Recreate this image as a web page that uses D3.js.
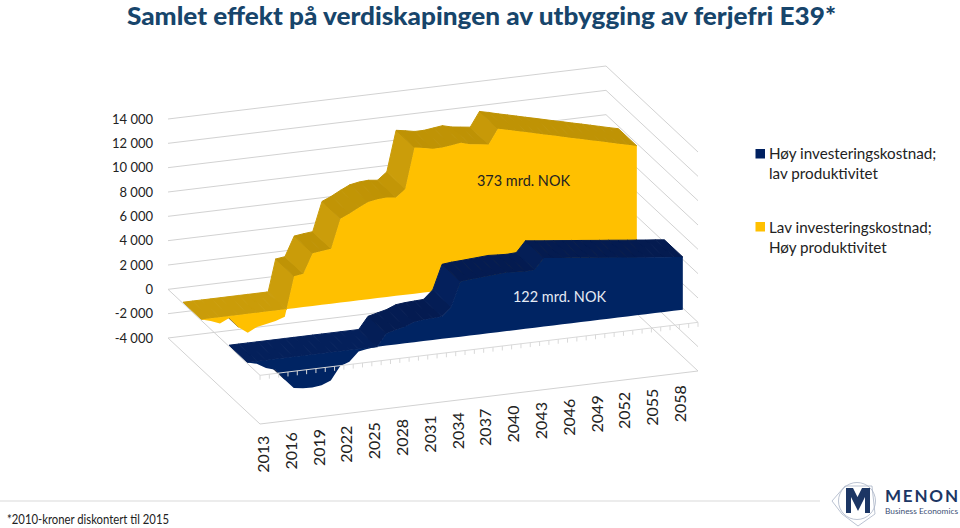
<!DOCTYPE html>
<html><head><meta charset="utf-8">
<style>html,body{margin:0;padding:0;background:#fff}svg{display:block}text{font-family:Lato,"Open Sans",sans-serif}</style>
<script src="https://cdn.jsdelivr.net/npm/d3@7/dist/d3.min.js"></script>
</head><body><svg id="c" width="960" height="528"></svg>
<script>
const years = d3.range(2013, 2061);
const labelYears = [2013,2016,2019,2022,2025,2028,2031,2034,2037,2040,2043,2046,2049,2052,2055,2058];
const gridValues = [-4000,-2000,0,2000,4000,6000,8000,10000,12000,14000];
const yellowValues = [-130,-350,-650,-300,-1150,-1680,-1300,-1150,-1000,-750,2500,2600,4200,4300,4380,6770,7100,7500,7860,8000,8050,7960,8560,11880,11750,11600,11600,11700,11800,11600,11500,11400,12600,12420,12220,12040,11850,11660,11480,11290,11100,10920,10730,10550,10360,10170,9980,9800];
const navyValues = [-130,-340,-780,-1000,-1900,-2700,-2800,-2830,-2750,-2450,-1370,-1080,-330,-200,-130,860,1050,1230,1540,1620,1660,1700,2400,4400,4480,4520,4570,4620,4670,4620,4580,4620,5500,5410,5320,5240,5150,5060,4980,4890,4800,4720,4630,4540,4460,4370,4290,4200];
const baseV = -130;
const series = [
  {values:yellowValues, z0:.665, z1:.865, face:"#FFC000", flat:"#BE9204", steep:"#CB9D0A", under:"#6f5200"},
  {values:navyValues, z0:.165, z1:.365, face:"#002463", flat:"#041B50", steep:"#04205C", under:"#020c26"}
];
const svg = d3.select("#c");
const tS = d3.scaleLinear().domain([2013,2060]).range([.006,1]);
const hS = d3.scaleLinear().domain([-4000,14000]).range([0,219]);
const slopeS = d3.scaleLinear().domain([0,2.5]).range([0,1]).clamp(true);
function P(t,z,v){ return [260+438*t-92*z, 424-53*t-86*z-hS(v)]; }
const line = d3.line();
const poly = p => line(p)+"Z";

// walls
const gridC = "#d2d2d2";
const wall = svg.append("g").attr("fill","none").attr("stroke",gridC).attr("stroke-width",1);
gridValues.forEach(v=>{
  wall.append("path").attr("d",line([P(0,1,v),P(1,1,v),P(1,0,v)]));
});
wall.append("path").attr("d",line([P(0,1,-4000),P(0,0,-4000),P(1,0,-4000)]));
wall.append("path").attr("d",line([P(0,1,0),P(0,0,0)]));
gridValues.forEach(v=>{
  svg.append("text").attr("x",153).attr("y",P(0,1,v)[1]+4.5).attr("text-anchor","end")
    .attr("font-size",13).attr("fill","#222").text(d3.format(",")(v).replace(/,/g," ").replace("\u2212","-"));
});

// series
series.forEach(s=>{
  const g = svg.append("g");
  const segs=[];
  for(let i=0;i<years.length-1;i++){
    const a=years[i],b=years[i+1],va=s.values[i],vb=s.values[i+1];
    if((va-baseV)*(vb-baseV)<0){
      const c=a+(baseV-va)/(vb-va)*(b-a);
      segs.push([a,va,c,baseV],[c,baseV,b,vb]);
    } else segs.push([a,va,b,vb]);
  }
  const quad=(a,va,b,vb)=>[P(tS(a),s.z0,va),P(tS(b),s.z0,vb),P(tS(b),s.z1,vb),P(tS(a),s.z1,va)];
  // underside, only where a falling stretch turns it to the viewer
  segs.forEach(([a,va,b,vb])=>{
    if(va<=baseV&&vb<=baseV){
      const q=quad(a,va,b,vb);
      const ex=q[1][0]-q[0][0],ey=q[1][1]-q[0][1],zx=q[3][0]-q[0][0],zy=q[3][1]-q[0][1];
      if(ex*zy-ey*zx>0) g.append("path").attr("d",poly(q)).attr("fill",s.under).attr("stroke",s.under).attr("stroke-width",.4);
    }
  });
  // upper surface
  segs.forEach(([a,va,b,vb])=>{
    const ua=Math.max(va,baseV),ub=Math.max(vb,baseV);
    const q=quad(a,ua,b,ub);
    const sl=Math.abs((q[1][1]-q[0][1])/(q[1][0]-q[0][0]));
    const col=d3.interpolateRgb(s.flat,s.steep)(ua===baseV&&ub===baseV?.9:slopeS(sl));
    g.append("path").attr("d",poly(q)).attr("fill",col).attr("stroke",col).attr("stroke-width",1).attr("stroke-linejoin","round");
  });
  // front face
  const area=d3.area()
    .x((d,i)=>P(tS(years[i]),s.z0,d)[0])
    .y0((d,i)=>P(tS(years[i]),s.z0,baseV)[1])
    .y1((d,i)=>P(tS(years[i]),s.z0,d)[1]);
  g.append("path").attr("d",area(s.values)).attr("fill",s.face);
});

// category axis at zero
const axis = svg.append("g").attr("stroke","#d9d9d9").attr("fill","none");
axis.append("path").attr("d",line([P(0,0,0),P(1,0,0)]));
years.forEach(y=>{
  const p=P(tS(y)-.006*(1-tS(y)),0,0);
  axis.append("path").attr("d",line([p,[p[0],p[1]+4.5]]));
});
labelYears.forEach(y=>{
  const p=P(tS(y),0,-4000);
  svg.append("text").attr("transform",`translate(${p[0]+6.5},${p[1]+12}) rotate(-90)`)
    .attr("text-anchor","end").attr("font-size",16).attr("fill","#222").text(y);
});

// title
svg.append("text").attr("x",127).attr("y",25).attr("font-size",25).attr("font-weight",900)
  .attr("fill","#17456B").attr("textLength",709).attr("lengthAdjust","spacingAndGlyphs")
  .text("Samlet effekt på verdiskapingen av utbygging av ferjefri E39*");

// notes
svg.append("text").attr("x",477).attr("y",185.5).attr("font-size",15.5).attr("fill","#222").attr("textLength",93).attr("lengthAdjust","spacingAndGlyphs").text("373 mrd. NOK");
svg.append("text").attr("x",513).attr("y",302).attr("font-size",15.5).attr("fill","#e6ebf4").attr("textLength",93).attr("lengthAdjust","spacingAndGlyphs").text("122 mrd. NOK");

// legend
const legendRows=[
 {c:"#002060",y:149,t:["Høy investeringskostnad;","lav produktivitet"],by:159},
 {c:"#FFC000",y:222,t:["Lav investeringskostnad;","Høy produktivitet"],by:233}
];
legendRows.forEach(r=>{
  svg.append("rect").attr("x",755.5).attr("y",r.y).attr("width",9.5).attr("height",9.5).attr("fill",r.c);
  r.t.forEach((l,i)=>svg.append("text").attr("x",769).attr("y",r.by+i*20).attr("font-size",15.2).attr("fill","#222").text(l));
});

// footer
svg.append("rect").attr("x",0).attr("y",500).attr("width",820).attr("height",2).attr("fill","#ececec");
svg.append("text").attr("x",7).attr("y",524).attr("font-size",13).attr("fill","#222").attr("textLength",162).attr("lengthAdjust","spacingAndGlyphs").text("*2010-kroner diskontert til 2015");

// logo
const logo=svg.append("g").attr("fill","none").attr("stroke","#aab4c6").attr("stroke-width",.8);
logo.append("circle").attr("cx",857).attr("cy",501).attr("r",18.5);
logo.append("path").attr("d",line([[832,501],[845,486],[872,486],[875,514],[858,526],[842,514],[832,501]]));
svg.append("path").attr("fill","#1C3664")
  .attr("d",line([[846,488],[853,488],[857.5,497],[862,488],[870,488],[870,513],[865,513],[865,497],[858,511],[851,497],[851,513],[846,513]])+"Z");
svg.append("text").attr("x",885).attr("y",502).attr("font-size",17).attr("font-weight",700).attr("fill","#1C3664").attr("textLength",73).text("MENON");
svg.append("text").attr("x",885).attr("y",514).attr("font-size",8).attr("fill","#3d4f75").attr("textLength",73).attr("lengthAdjust","spacingAndGlyphs").text("Business Economics");
</script></body></html>
